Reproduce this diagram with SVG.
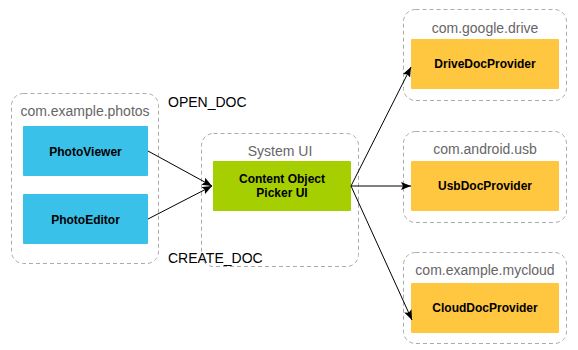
<svg xmlns="http://www.w3.org/2000/svg" width="578" height="350" viewBox="0 0 578 350">
  <defs>
    <marker id="arrow" markerWidth="10" markerHeight="8" refX="10" refY="4" orient="auto" markerUnits="userSpaceOnUse">
      <path d="M0,0 L10,4 L0,8 L2,4 Z" fill="#000"/>
    </marker>
    <style>
      .pkg { fill: #fff; stroke: #aaa; stroke-width: 1; stroke-dasharray: 4 3; }
      .pkg-label { font-family: "Liberation Sans", Arial, sans-serif; font-size: 14px; fill: #666; text-anchor: middle; }
      .box-label { font-family: "Liberation Sans", Arial, sans-serif; font-size: 12px; font-weight: bold; fill: #000; text-anchor: middle; }
      .app { fill: #3AC1EA; }
      .ui { fill: #A5CF00; }
      .prov { fill: #FFC640; }
      .op { font-family: "Liberation Sans", Arial, sans-serif; font-size: 14px; fill: #000; }
      .link { stroke: #000; stroke-width: 1; fill: none; marker-end: url(#arrow); }
    </style>
  </defs>
  <rect width="578" height="350" fill="#fff"/>

  <!-- client app package -->
  <g id="photos">
    <rect class="pkg" x="11.5" y="93.5" width="147" height="170" rx="12"/>
    <text class="pkg-label" x="85" y="116">com.example.photos</text>
  </g>
  <g id="photoviewer">
    <rect class="app" x="23" y="126" width="125" height="50" rx="1"/>
    <text class="box-label" x="85.5" y="155.5">PhotoViewer</text>
  </g>
  <g id="photoeditor">
    <rect class="app" x="23" y="194" width="125" height="50" rx="1"/>
    <text class="box-label" x="85.5" y="223.5">PhotoEditor</text>
  </g>

  <!-- system picker -->
  <g id="systemui">
    <rect class="pkg" x="201.5" y="133.5" width="157" height="133" rx="12"/>
    <text class="pkg-label" x="280" y="156">System UI</text>
  </g>
  <g id="picker">
    <rect class="ui" x="213" y="161" width="138" height="50" rx="1"/>
    <text class="box-label" x="282" y="183">Content Object</text>
    <text class="box-label" x="282" y="197">Picker UI</text>
  </g>

  <!-- document providers -->
  <g id="drive">
    <rect class="pkg" x="403.5" y="9.5" width="163" height="91" rx="12"/>
    <text class="pkg-label" x="485" y="33">com.google.drive</text>
    <rect class="prov" x="411" y="39" width="148" height="50" rx="1"/>
    <text class="box-label" x="485" y="68">DriveDocProvider</text>
  </g>
  <g id="usb">
    <rect class="pkg" x="403.5" y="131.5" width="163" height="91" rx="12"/>
    <text class="pkg-label" x="485" y="154">com.android.usb</text>
    <rect class="prov" x="411" y="161" width="148" height="50" rx="1"/>
    <text class="box-label" x="485" y="190">UsbDocProvider</text>
  </g>
  <g id="cloud">
    <rect class="pkg" x="403.5" y="252.5" width="163" height="91" rx="12"/>
    <text class="pkg-label" x="485" y="275">com.example.mycloud</text>
    <rect class="prov" x="411" y="283" width="148" height="50" rx="1"/>
    <text class="box-label" x="485" y="312">CloudDocProvider</text>
  </g>

  <!-- operation labels -->
  <g id="ops">
    <text class="op" x="168" y="107">OPEN_DOC</text>
    <text class="op" x="168" y="263">CREATE_DOC</text>
  </g>

  <!-- connectors -->
  <g id="connectors">
    <line class="link" x1="148" y1="151" x2="212" y2="186"/>
    <line class="link" x1="148" y1="219" x2="212" y2="186"/>
    <line class="link" x1="351" y1="186" x2="411" y2="67"/>
    <line class="link" x1="351" y1="186" x2="411" y2="186"/>
    <line class="link" x1="351" y1="186" x2="412" y2="320"/>
  </g>
</svg>
